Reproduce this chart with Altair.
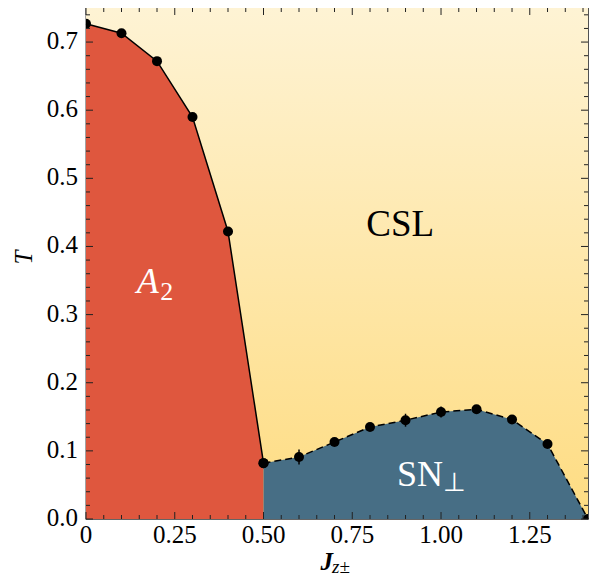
import altair as alt
import pandas as pd

# ---- data ----
a2_J = [0.0, 0.1, 0.2, 0.3, 0.4, 0.5]
a2_T = [0.727, 0.713, 0.672, 0.590, 0.422, 0.082]

sn_J = [0.5, 0.6, 0.7, 0.8, 0.9, 1.0, 1.1, 1.2, 1.3, 1.414]
sn_T = [0.082, 0.091, 0.113, 0.135, 0.145, 0.157, 0.161, 0.146, 0.110, 0.0]
sn_err = [0.003, 0.011, 0.004, 0.006, 0.0095, 0.008, 0.004, 0.004, 0.004, 0.0]

x_major = [0, 0.25, 0.5, 0.75, 1.0, 1.25]
x_labels = ["0", "0.25", "0.50", "0.75", "1.00", "1.25"]
y_major = [0.0, 0.1, 0.2, 0.3, 0.4, 0.5, 0.6, 0.7]
y_labels = ["0.0", "0.1", "0.2", "0.3", "0.4", "0.5", "0.6", "0.7"]
x_minor = [round(i * 0.05, 2) for i in range(1, 29) if i % 5 != 0]
y_minor = [round(i * 0.02, 2) for i in range(1, 38) if i % 5 != 0]

W, H = 502, 511
FONT = "Liberation Serif"
LABEL_SIZE = 25
RED = "#DF573E"
BLUE = "#476E85"

xs = alt.Scale(domain=[0, 1.414], nice=False, zero=False)
ys = alt.Scale(domain=[0, 0.75], nice=False, zero=False)

a2 = pd.DataFrame({"J": a2_J, "T": a2_T})
sn = pd.DataFrame({"J": sn_J, "T": sn_T, "err": sn_err})
sn["lo"] = sn["T"] - sn["err"]
sn["hi"] = sn["T"] + sn["err"]
allpts = pd.concat([a2, sn[["J", "T"]]], ignore_index=True)

one = pd.DataFrame({"a": [0]})


def X(field):
    return alt.X(field, scale=xs, axis=None)


def Y(field):
    return alt.Y(field, scale=ys, axis=None)


bg = alt.Chart(one).mark_rect(
    fill={
        "gradient": "linear",
        "x1": 0, "y1": 0, "x2": 0, "y2": 1,
        "stops": [
            {"offset": 0, "color": "#FEF3D4"},
            {"offset": 1, "color": "#FEDC82"},
        ],
    }
).encode(x=alt.value(0), x2=alt.value(W), y=alt.value(0), y2=alt.value(H))

area_a2 = alt.Chart(a2).mark_area(color=RED, opacity=1).encode(
    x=X("J:Q"), y=Y("T:Q"), y2=alt.datum(0),
)
area_sn = alt.Chart(sn).mark_area(color=BLUE, opacity=1).encode(
    x=X("J:Q"), y=Y("T:Q"), y2=alt.datum(0),
)
line_a2 = alt.Chart(a2).mark_line(color="black", strokeWidth=1.5).encode(
    x=X("J:Q"), y=Y("T:Q")
)
line_sn = alt.Chart(sn).mark_line(
    color="black", strokeWidth=1.5, strokeDash=[7, 4]
).encode(x=X("J:Q"), y=Y("T:Q"))

errs = alt.Chart(sn).mark_rule(color="black", strokeWidth=1.5).encode(
    x=X("J:Q"), y=Y("lo:Q"), y2="hi:Q"
)
pts = alt.Chart(allpts).mark_circle(
    color="black", opacity=1, size=100, clip=True
).encode(x=X("J:Q"), y=Y("T:Q"))


# ---- inward ticks on all four sides ----
def xticks(vals, length):
    d = pd.DataFrame({"v": vals})
    bottom = alt.Chart(d).mark_rule(color="#222", strokeWidth=1).encode(
        x=X("v:Q"), y=alt.value(H), y2=alt.value(H - length)
    )
    top = alt.Chart(d).mark_rule(color="#222", strokeWidth=1).encode(
        x=X("v:Q"), y=alt.value(0), y2=alt.value(length)
    )
    return bottom + top


def yticks(vals, length):
    d = pd.DataFrame({"v": vals})
    left = alt.Chart(d).mark_rule(color="#222", strokeWidth=1).encode(
        y=Y("v:Q"), x=alt.value(0), x2=alt.value(length)
    )
    right = alt.Chart(d).mark_rule(color="#222", strokeWidth=1).encode(
        y=Y("v:Q"), x=alt.value(W), x2=alt.value(W - length)
    )
    return left + right


ticks = xticks(x_major, 7) + xticks(x_minor, 4) + yticks(y_major, 7) + yticks(y_minor, 4)

# ---- tick labels as text drawn through the scales ----
xl = pd.DataFrame({"v": x_major, "t": x_labels})
yl = pd.DataFrame({"v": y_major, "t": y_labels})
x_lab = alt.Chart(xl).mark_text(
    font=FONT, fontSize=LABEL_SIZE, align="center", baseline="alphabetic",
    color="black",
).encode(x=X("v:Q"), y=alt.value(H + 24), text="t:N")
y_lab = alt.Chart(yl).mark_text(
    font=FONT, fontSize=LABEL_SIZE, align="right", baseline="alphabetic",
    color="black", dy=7,
).encode(y=Y("v:Q"), x=alt.value(-8), text="t:N")


# ---- region labels ----
def label(text, x, y, size, italic=False, align="left", color="black"):
    d = pd.DataFrame({"x": [x], "y": [y], "t": [text]})
    return alt.Chart(d).mark_text(
        font=FONT, fontSize=size, fontStyle="italic" if italic else "normal",
        align=align, baseline="alphabetic", color=color,
    ).encode(x=X("x:Q"), y=Y("y:Q"), text="t:N")


labels = (
    label("CSL", 0.885, 0.415, 37, align="center")
    + label("A", 0.143, 0.332, 36, italic=True, color="white")
    + label("2", 0.209, 0.322, 26, color="white")
    + label("SN", 0.876, 0.048, 36, color="white")
    + label("⊥", 1.006, 0.041, 26, color="white")
)

# ---- axis titles ----
ttl = pd.DataFrame({"a": [0]})
t_title = alt.Chart(ttl).mark_text(
    text="T", font=FONT, fontSize=25, fontStyle="italic", angle=270,
    align="center", baseline="middle", color="black",
).encode(x=alt.value(-62), y=alt.value(H / 2 - 6))
j_title = alt.Chart(ttl).mark_text(
    text="J", font=FONT, fontSize=25, fontStyle="italic", fontWeight="bold",
    align="right", baseline="alphabetic", color="black",
).encode(x=alt.value(247), y=alt.value(562))
z_title = alt.Chart(ttl).mark_text(
    text="z±", font=FONT, fontSize=19, fontStyle="italic",
    align="left", baseline="alphabetic", color="black",
).encode(x=alt.value(246), y=alt.value(565))

chart = alt.layer(
    bg, area_a2, area_sn, line_a2, line_sn, errs, pts, ticks, labels,
    x_lab, y_lab, t_title, j_title, z_title,
).properties(
    width=W, height=H,
    autosize=alt.AutoSizeParams(type="none"),
    padding={"left": 78, "top": 0, "right": 12, "bottom": 58},
).configure_view(
    stroke="#333", strokeWidth=1.3
)

chart.save("out.html", embed_options={"renderer": "svg", "actions": False})
